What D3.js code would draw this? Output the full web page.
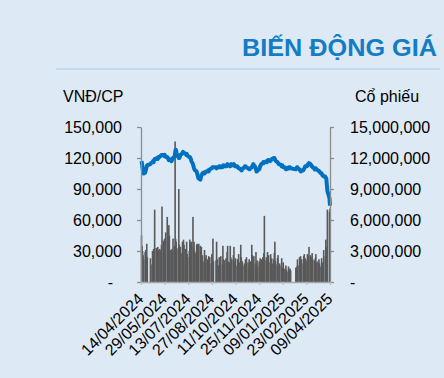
<!DOCTYPE html>
<html>
<head>
<meta charset="utf-8">
<script src="https://cdn.jsdelivr.net/npm/d3@7"></script>
<style>
  html, body { margin: 0; padding: 0; background: #dde9f5; }
  text { font-family: Arial, "Liberation Sans", sans-serif; }
</style>
</head>
<body>
<svg id="chart"></svg>
<script>
// trading calendar
const firstDay = '2024-04-15';
const lastDay = '2025-04-09';
const holidays = ['2024-04-29', '2024-04-30', '2024-05-01', '2024-09-02', '2024-09-03',
    '2025-01-01', '2025-01-27', '2025-01-28', '2025-01-29', '2025-01-30', '2025-01-31', '2025-04-07'];

// x axis tick labels (45 day steps)
const dateTicks = ['14/04/2024', '29/05/2024', '13/07/2024', '27/08/2024', '11/10/2024',
    '25/11/2024', '09/01/2025', '23/02/2025', '09/04/2025'];

const priceTicks = [0, 30000, 60000, 90000, 120000, 150000];
const volumeTicks = [0, 3000000, 6000000, 9000000, 12000000, 15000000];

// closing price, thousand VND, one row per week
const price = [
    117, 114, 110, 107, 105,
    106, 108, 110, 112, 113,
    114, 115,
    116, 117, 116, 118, 119,
    119, 120, 120, 119, 121,
    121, 122, 122, 123, 123,
    123, 122, 123, 122, 121,
    121, 120, 119, 118, 119,
    118, 117, 118, 119, 120,
    121, 125, 128, 127, 124,
    122, 120, 120, 121, 123,
    124, 125, 126, 125, 125,
    124, 123, 124, 123, 122,
    121, 121, 120, 119, 117,
    114, 112, 110, 109, 108,
    107, 105, 103, 101, 100,
    99, 101, 103, 104, 105,
    106, 105, 106, 106, 107,
    107, 108, 107, 108, 109,
    110, 110, 111, 111, 111,
    111, 110, 111,
    111, 112, 111, 112, 111,
    111, 112, 113, 112, 112,
    113, 112, 113, 114, 113,
    113, 112, 113, 114, 113,
    113, 114, 113, 112, 112,
    112, 111, 111, 110, 110,
    109, 108, 108, 109, 110,
    111, 112, 112, 111, 111,
    110, 110, 109, 109, 110,
    111, 112, 113, 114, 113,
    111, 109, 107, 107, 108,
    109, 110, 112, 113, 114,
    115, 116, 115, 116, 116,
    117, 116, 117, 118, 118,
    117, 118, 118, 119, 119,
    120, 120, 119, 118, 117,
    116, 115, 114, 114,
    113, 112, 113, 112, 111,
    111, 110, 109, 109, 110,
    111, 110, 111, 111, 110,
    109, 110, 111, 111, 110,
    109, 108, 107, 107, 108,
    108, 109, 110, 111, 112,
    112, 113, 114, 114, 115,
    114, 113, 112, 112, 111,
    110, 109, 110, 110, 109,
    108, 108, 107, 107, 106,
    105, 104, 103, 103, 102,
    102, 101, 100, 94, 88,
    81, 74
];

// matched volume, million shares, one row per week
const volume = [
    4.5, 3.5, 3.0, 2.6, 2.2,
    2.9, 3.1, 2.5, 3.7, 2.4,
    2.3, 1.7,
    3.0, 2.8, 3.2, 2.9, 7.0,
    3.3, 3.0, 2.5, 3.4, 3.1,
    3.2, 3.0, 2.7, 3.6, 7.3,
    4.0, 3.5, 4.2, 3.4, 4.8,
    6.3, 4.3, 3.8, 5.5, 4.5,
    3.1, 2.9, 3.2, 3.0, 4.2,
    3.5, 13.6, 4.2, 3.9, 3.2,
    3.3, 9.0, 3.6, 3.0, 3.4,
    2.8, 3.9, 3.4, 4.1, 3.6,
    3.2, 2.5, 3.9, 2.7, 2.4,
    3.0, 4.1, 3.8, 2.6, 3.9,
    6.3, 3.4, 3.9, 3.0, 2.8,
    3.6, 3.7, 2.5, 3.2, 3.7,
    3.5, 2.9, 3.4, 2.2, 2.6,
    2.0, 3.1, 2.4, 1.8, 2.6,
    2.2, 1.9, 2.5, 1.6, 2.4,
    1.8, 2.7, 2.1, 4.2, 2.0,
    2.1, 3.9, 2.2,
    1.6, 2.4, 2.1, 1.9, 2.5,
    1.7, 3.5, 2.2, 1.6, 2.1,
    2.3, 1.8, 2.9, 3.5, 2.0,
    1.9, 3.5, 2.4, 1.7, 2.2,
    2.6, 3.4, 2.0, 1.8, 2.3,
    1.6, 2.2, 1.5, 2.7, 1.9,
    3.6, 2.4, 1.7, 2.0, 1.6,
    1.8, 1.4, 2.2, 1.5, 2.4,
    1.9, 1.3, 2.2, 1.6, 2.0,
    3.6, 2.6, 2.2, 1.8, 2.5,
    1.7, 2.9, 1.9, 2.1, 1.5,
    2.0, 1.6, 2.3, 1.8, 2.2,
    2.4, 1.9, 2.8, 6.4, 2.1,
    2.4, 1.7, 2.9, 2.2, 2.6,
    1.9, 2.7, 1.6, 2.3, 1.8,
    2.2, 2.8, 3.9, 2.0, 1.7,
    2.3, 2.6, 1.5, 1.8,
    1.6, 2.3, 1.4, 1.2, 1.9,
    1.3, 1.1, 1.6, 1.2, 1.0,
    1.5, 1.2, 0.9, 1.3, 1.1,
    1.4, 1.2, 1.5, 2.2, 1.6,
    2.4, 1.7, 2.5, 1.9, 2.2,
    1.8, 2.5, 2.7, 2.0, 2.3,
    2.1, 2.7, 1.9, 2.5, 3.4,
    2.6, 2.0, 2.4, 2.8, 2.2,
    2.1, 1.7, 2.3, 2.7, 1.9,
    2.0, 1.6, 2.2, 1.8, 1.5,
    2.3, 1.7, 1.9, 1.4, 3.1,
    2.5, 4.1, 2.6, 3.4, 7.0,
    6.8, 7.1
];

const W = 444, H = 378;
const plotLeft = 141, plotRight = 330, plotTop = 127, plotBottom = 282;

const parseIso = d3.timeParse('%Y-%m-%d');
const parseVn = d3.timeParse('%d/%m/%Y');
const isoFmt = d3.timeFormat('%Y-%m-%d');
const fmt = d3.format(',');

const days = d3.timeDay.range(parseIso(firstDay), d3.timeDay.offset(parseIso(lastDay), 1))
    .filter(d => d.getDay() !== 0 && d.getDay() !== 6)
    .filter(d => !holidays.includes(isoFmt(d)));

if (days.length !== price.length || days.length !== volume.length) {
    throw new Error(`length mismatch days=${days.length} price=${price.length} volume=${volume.length}`);
}

const data = days.map((d, i) => ({ date: d, price: price[i] * 1000, volume: volume[i] * 1e6 }));
const tickDates = dateTicks.map(parseVn);

const svg = d3.select('#chart').attr('width', W).attr('height', H);
svg.append('rect').attr('width', W).attr('height', H).attr('fill', '#dde9f5');

const x = d3.scaleTime().domain([tickDates[0], tickDates[tickDates.length - 1]]).range([plotLeft, plotRight]);
const yPrice = d3.scaleLinear().domain([0, 150000]).range([plotBottom, plotTop]);
const yVol = d3.scaleLinear().domain([0, 15000000]).range([plotBottom, plotTop]);

// title
svg.append('text')
    .attr('x', 437).attr('y', 56)
    .attr('text-anchor', 'end')
    .attr('textLength', 195).attr('lengthAdjust', 'spacingAndGlyphs')
    .attr('fill', '#137cc4')
    .style('font-size', '23px').style('font-weight', 'bold')
    .text('BIẾN ĐỘNG GIÁ');

svg.append('line')
    .attr('x1', 56).attr('x2', 440).attr('y1', 69).attr('y2', 69)
    .attr('stroke', '#b5d6f0').attr('stroke-width', 1.5);

svg.append('text').attr('x', 63).attr('y', 102).style('font-size', '16px').text('VNĐ/CP');
svg.append('text').attr('x', 355).attr('y', 102).style('font-size', '16px').text('Cổ phiếu');

// volume bars
svg.append('g').selectAll('rect')
    .data(data)
    .enter()
    .append('rect')
    .attr('x', d => x(d.date) - 0.8)
    .attr('width', 1.6)
    .attr('y', d => yVol(d.volume))
    .attr('height', d => plotBottom - yVol(d.volume))
    .attr('fill', '#595959');

// price line
svg.append('path')
    .datum(data)
    .attr('fill', 'none')
    .attr('stroke', '#0070c0')
    .attr('stroke-width', 4)
    .attr('stroke-linejoin', 'round')
    .attr('d', d3.line().x(d => x(d.date)).y(d => yPrice(d.price)));

function styleAxis(g) {
    g.select('.domain').attr('stroke', '#8c8c8c').attr('stroke-width', 1.3);
    g.selectAll('.tick line').attr('stroke', '#8c8c8c').attr('stroke-width', 1.3);
    g.selectAll('.tick text').attr('fill', '#000').style('font-size', '16px')
        .style('font-family', 'Arial, "Liberation Sans", sans-serif');
}

const axisL = svg.append('g')
    .attr('transform', `translate(${plotLeft},0)`)
    .call(d3.axisLeft(yPrice).tickValues(priceTicks).tickSize(4).tickSizeOuter(0).tickPadding(15)
        .tickFormat(d => d === 0 ? '-' : fmt(d)))
    .call(styleAxis);
axisL.selectAll('.tick text').filter(d => d === 0).attr('dx', -9);

svg.append('g')
    .attr('transform', `translate(${plotRight},0)`)
    .call(d3.axisRight(yVol).tickValues(volumeTicks).tickSize(4).tickSizeOuter(0).tickPadding(16)
        .tickFormat(d => d === 0 ? '-' : fmt(d)))
    .call(styleAxis);

const axisB = svg.append('g')
    .attr('transform', `translate(0,${plotBottom})`)
    .call(d3.axisBottom(x).tickValues(tickDates).tickSize(3).tickSizeOuter(0)
        .tickFormat((d, i) => dateTicks[i]))
    .call(styleAxis);
axisB.select('.domain').attr('stroke', '#a6a6a6');
axisB.selectAll('.tick line').attr('stroke', '#bfbfbf');
axisB.selectAll('.tick text')
    .attr('text-anchor', 'end')
    .attr('transform', 'translate(-1,14) rotate(-45)')
    .attr('dy', '0.35em')
    .attr('y', 0);
</script>
</body>
</html>
